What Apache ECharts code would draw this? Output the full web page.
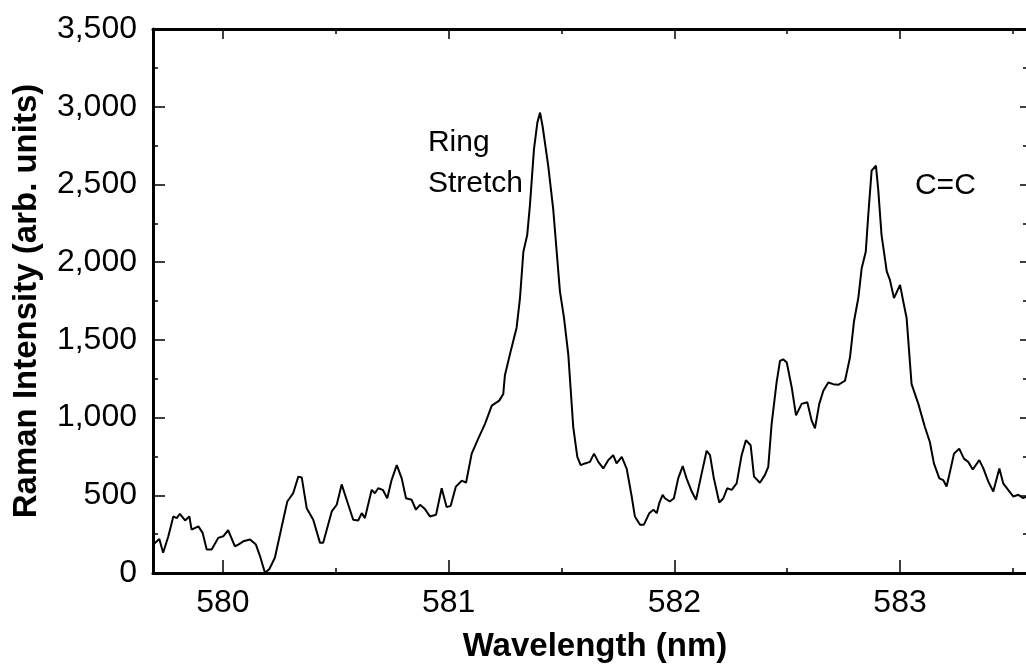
<!DOCTYPE html>
<html>
<head>
<meta charset="utf-8">
<script src="https://cdn.jsdelivr.net/npm/echarts@6/dist/echarts.min.js"></script>
<style>
  html, body { margin: 0; padding: 0; background: #fff; }
  #chart { width: 1026px; height: 668px; }
</style>
</head>
<body>
<div id="chart"></div>
<script>
// Wavelength (nm)
const wavelength = [
  579.691,579.718,579.735,579.758,579.780,579.795,579.809,579.832,579.851,579.861,
  579.891,579.910,579.928,579.950,579.979,580.001,580.023,580.053,580.068,580.090,
  580.120,580.146,580.164,580.186,580.205,580.230,580.267,580.285,580.311,580.334,
  580.349,580.371,580.400,580.430,580.444,580.482,580.504,580.526,580.548,580.577,
  580.599,580.615,580.629,580.659,580.673,580.688,580.708,580.728,580.747,580.770,
  580.792,580.811,580.836,580.855,580.873,580.895,580.917,580.944,580.969,580.991,
  581.009,581.032,581.058,581.077,581.102,581.131,581.161,581.191,581.224,581.242,
  581.249,581.272,581.301,581.316,581.331,581.348,581.360,581.378,581.393,581.405,
  581.416,581.441,581.463,581.493,581.511,581.530,581.552,581.570,581.585,581.604,
  581.626,581.644,581.663,581.685,581.707,581.729,581.744,581.767,581.789,581.811,
  581.825,581.848,581.865,581.889,581.907,581.922,581.933,581.948,581.958,581.980,
  581.998,582.017,582.037,582.054,582.077,582.096,582.121,582.143,582.158,582.175,
  582.199,582.217,582.234,582.254,582.276,582.298,582.317,582.338,582.353,582.379,
  582.401,582.416,582.431,582.453,582.468,582.482,582.498,582.520,582.539,582.564,
  582.589,582.608,582.623,582.642,582.660,582.682,582.704,582.726,582.756,582.778,
  582.796,582.815,582.830,582.848,582.859,582.874,582.893,582.903,582.918,582.941,
  582.955,582.973,583.000,583.014,583.029,583.051,583.081,583.110,583.132,583.150,
  583.174,583.191,583.206,583.218,583.239,583.262,583.283,583.302,583.322,583.351,
  583.369,583.391,583.413,583.440,583.457,583.479,583.502,583.524,583.546,583.558
];
// Raman intensity (arb. units)
const intensity = [
  183,219,130,236,364,353,381,338,364,279,
  300,258,151,151,226,236,275,172,183,204,
  215,183,109,2,24,98,343,460,513,620,
  615,417,343,194,194,396,439,570,471,343,
  338,385,353,535,513,545,535,481,598,694,
  609,481,471,407,439,411,364,375,545,424,
  432,556,594,581,768,864,960,1077,1109,1152,
  1270,1410,1578,1769,2067,2174,2365,2727,2898,2962,
  2876,2621,2344,1812,1641,1407,939,747,694,705,
  715,768,715,673,726,758,705,747,670,492,
  364,311,311,385,407,385,449,503,481,460,
  481,609,688,609,524,471,641,786,758,609,
  453,481,545,535,577,758,854,822,620,581,
  630,683,960,1226,1365,1375,1354,1194,1014,1088,
  1099,982,930,1088,1173,1226,1215,1211,1237,1386,
  1620,1769,1961,2067,2301,2589,2621,2472,2174,1940,
  1886,1769,1854,1748,1641,1215,1088,939,843,705,
  609,598,556,630,768,800,736,715,666,726,
  673,588,524,673,577,535,492,503,481,492
];
const xMajorTicks = [580, 581, 582, 583];
const xMinorTicks = [580.5, 581.5, 582.5, 583.5];
const xLabels = ['580', '581', '582', '583'];
const annotations = [
  { name: 'Ring\nStretch', coord: [580.908, 2638] },
  { name: 'C=C', coord: [583.066, 2490] }
];
const xTitle = 'Wavelength (nm)';
const yTitle = 'Raman Intensity (arb. units)';

const FONT = "'Liberation Sans', Arial, Helvetica, sans-serif";
const X_MIN = 579.69, X_MAX = 583.558;

const chart = echarts.init(document.getElementById('chart'), null, { renderer: 'canvas' });

function xAxisBase(extra) {
  return Object.assign({
    type: 'value', min: X_MIN, max: X_MAX, gridIndex: 0,
    splitLine: { show: false },
    axisLabel: { show: false },
    axisLine: { show: false },
    axisTick: { show: false }
  }, extra);
}

const option = {
  backgroundColor: '#ffffff',
  animation: false,
  grid: { left: 153, right: 0, top: 29, bottom: 91, containLabel: false },
  xAxis: [
    xAxisBase({
      position: 'bottom',
      name: xTitle,
      nameLocation: 'middle',
      nameGap: 57,
      nameTextStyle: { fontFamily: FONT, fontSize: 33, fontWeight: 'bold', color: '#000', padding: [0, 0, 0, 11] },
      axisLine: { show: true, lineStyle: { color: '#000', width: 3 } },
      axisTick: { show: true, inside: true, length: 13, lineStyle: { color: '#000', width: 1.5 }, customValues: xMajorTicks },
      axisLabel: {
        show: true, margin: 14, color: '#000', fontFamily: FONT, fontSize: 32,
        customValues: xMajorTicks,
        formatter: function (v) { const i = xMajorTicks.indexOf(Math.round(v)); return i >= 0 ? xLabels[i] : ''; }
      }
    }),
    xAxisBase({
      position: 'bottom',
      axisTick: { show: true, inside: true, length: 5, lineStyle: { color: '#000', width: 1.5 }, customValues: xMinorTicks }
    }),
    xAxisBase({
      position: 'top',
      axisLine: { show: true, lineStyle: { color: '#000', width: 3 } },
      axisTick: { show: true, inside: true, length: 10, lineStyle: { color: '#000', width: 1.5 }, customValues: xMajorTicks }
    }),
    xAxisBase({
      position: 'top',
      axisTick: { show: true, inside: true, length: 5, lineStyle: { color: '#000', width: 1.5 }, customValues: xMinorTicks }
    })
  ],
  yAxis: [
    {
      type: 'value', min: 0, max: 3500, interval: 500, position: 'left',
      name: yTitle,
      nameLocation: 'middle',
      nameRotate: 90,
      nameGap: 110,
      nameTextStyle: { fontFamily: FONT, fontSize: 33, fontWeight: 'bold', color: '#000' },
      splitLine: { show: false },
      axisLine: { show: true, lineStyle: { color: '#000', width: 3 } },
      axisTick: { show: true, inside: true, length: 12, lineStyle: { color: '#000', width: 1.5 } },
      minorTick: { show: true, splitNumber: 2, length: 5, lineStyle: { color: '#000', width: 1.5 } },
      axisLabel: {
        margin: 16, color: '#000', fontFamily: FONT, fontSize: 32,
        formatter: function (v) { return v.toLocaleString('en-US'); }
      }
    },
    {
      type: 'value', min: 0, max: 3500, interval: 500, position: 'right',
      splitLine: { show: false },
      axisLine: { show: false },
      axisTick: { show: true, inside: true, length: 6, lineStyle: { color: '#000', width: 1.5 } },
      minorTick: { show: true, splitNumber: 2, length: 3, lineStyle: { color: '#000', width: 1.5 } },
      axisLabel: { show: false }
    }
  ],
  series: [
    {
      type: 'line',
      xAxisIndex: 0,
      yAxisIndex: 0,
      data: wavelength.map((w, i) => [w, intensity[i]]),
      showSymbol: false,
      symbol: 'none',
      lineStyle: { color: '#000', width: 2 },
      silent: true,
      markPoint: {
        symbol: 'circle',
        symbolSize: 0,
        silent: true,
        label: {
          show: true, position: 'inside', align: 'left', verticalAlign: 'middle',
          color: '#000', fontFamily: FONT, fontSize: 30, lineHeight: 41,
          formatter: '{b}'
        },
        data: annotations.map(a => ({ name: a.name, coord: a.coord }))
      }
    }
  ]
};
chart.setOption(option);
</script>
</body>
</html>
